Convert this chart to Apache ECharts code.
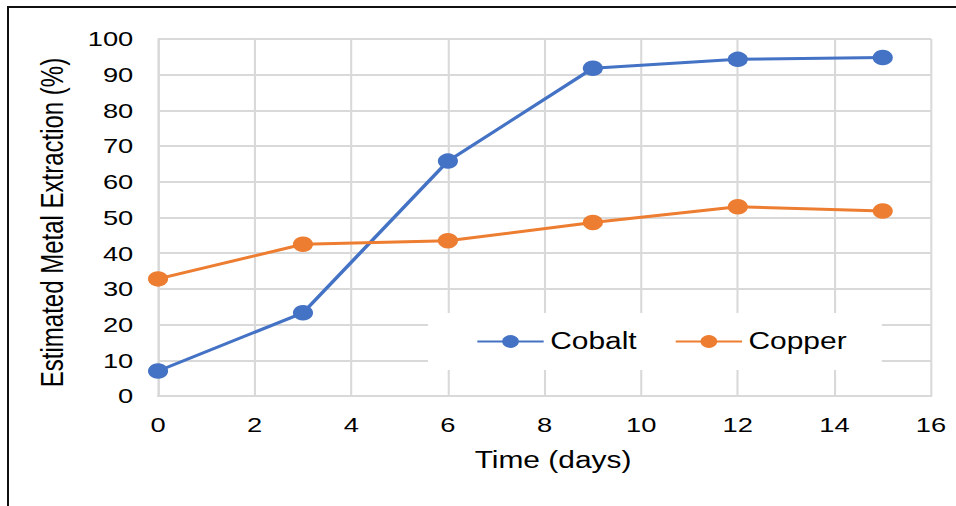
<!DOCTYPE html>
<html>
<head>
<meta charset="utf-8">
<script src="https://cdn.jsdelivr.net/npm/echarts@6/dist/echarts.min.js"></script>
<style>
  html, body { margin: 0; padding: 0; background: #fff; overflow: hidden; width: 956px; height: 506px; }
  #c { position: absolute; left: 0; top: 0; width: 735px; height: 506px; transform: scaleX(1.3007); transform-origin: 0 0; }
  #frame { position: absolute; left: 7px; top: 6px; width: 960px; height: 520px; border-top: 2px solid #111; border-left: 2px solid #111; pointer-events: none; }
</style>
</head>
<body>
<div id="c"></div>
<div id="frame"></div>
<script>
// ---- data ----
const days = [0, 3, 6, 9, 12, 15];
const cobalt = [7.0, 23.3, 65.8, 91.8, 94.3, 94.8];
const copper = [32.8, 42.5, 43.5, 48.6, 53.0, 51.8];
const seriesNames = ['Cobalt', 'Copper'];
const xTitle = 'Time (days)';
const yTitle = 'Estimated Metal Extraction (%)';

const FONT = '"Liberation Sans", Arial, sans-serif';
const GRID = '#D9D9D9';
const TXT = '#000';

const chart = echarts.init(document.getElementById('c'), null, { renderer: 'svg' });

function pairs(xs, ys) { return xs.map((x, i) => [x, ys[i]]); }

chart.setOption({
  animation: false,
  backgroundColor: '#fff',
  textStyle: { fontFamily: FONT, color: TXT },
  grid: { left: 121.5, right: 19.2, top: 39, bottom: 110, containLabel: false },
  xAxis: {
    type: 'value', min: 0, max: 16, interval: 2,
    name: xTitle, nameLocation: 'middle', nameGap: 53,
    nameTextStyle: { fontFamily: FONT, fontSize: 23, color: TXT, padding: [0, 0, 0, 13] },
    axisLine: { show: true, lineStyle: { color: GRID, width: 2 } },
    axisTick: { show: false },
    axisLabel: { fontFamily: FONT, fontSize: 21, color: TXT, margin: 18 },
    splitLine: { show: true, lineStyle: { color: GRID, width: 1.6 } }
  },
  yAxis: {
    type: 'value', min: 0, max: 100, interval: 10,
    name: yTitle, nameLocation: 'middle', nameGap: 69, nameRotate: 90,
    nameTextStyle: { fontFamily: FONT, fontSize: 24, color: TXT, padding: [0, 10, 0, 0] },
    axisLine: { show: true, lineStyle: { color: GRID, width: 1.6 } },
    axisTick: { show: false },
    axisLabel: { fontFamily: FONT, fontSize: 21, color: TXT, margin: 19 },
    splitLine: { show: true, lineStyle: { color: GRID, width: 2 } }
  },
  legend: {
    data: seriesNames,
    left: 329, top: 313,
    orient: 'horizontal',
    backgroundColor: '#fff',
    padding: [17, 27, 17, 37],
    itemWidth: 51, itemHeight: 16, itemGap: 29,
    textStyle: { fontFamily: FONT, fontSize: 23, color: TXT },
    z: 5
  },
  series: [
    {
      name: seriesNames[0], type: 'line', data: pairs(days, cobalt),
      symbol: 'circle', symbolSize: 15.5,
      lineStyle: { color: '#4472C4', width: 3 },
      itemStyle: { color: '#4472C4' }
    },
    {
      name: seriesNames[1], type: 'line', data: pairs(days, copper),
      symbol: 'circle', symbolSize: 15.5,
      lineStyle: { color: '#ED7D31', width: 3 },
      itemStyle: { color: '#ED7D31' }
    }
  ]
});
</script>
</body>
</html>
